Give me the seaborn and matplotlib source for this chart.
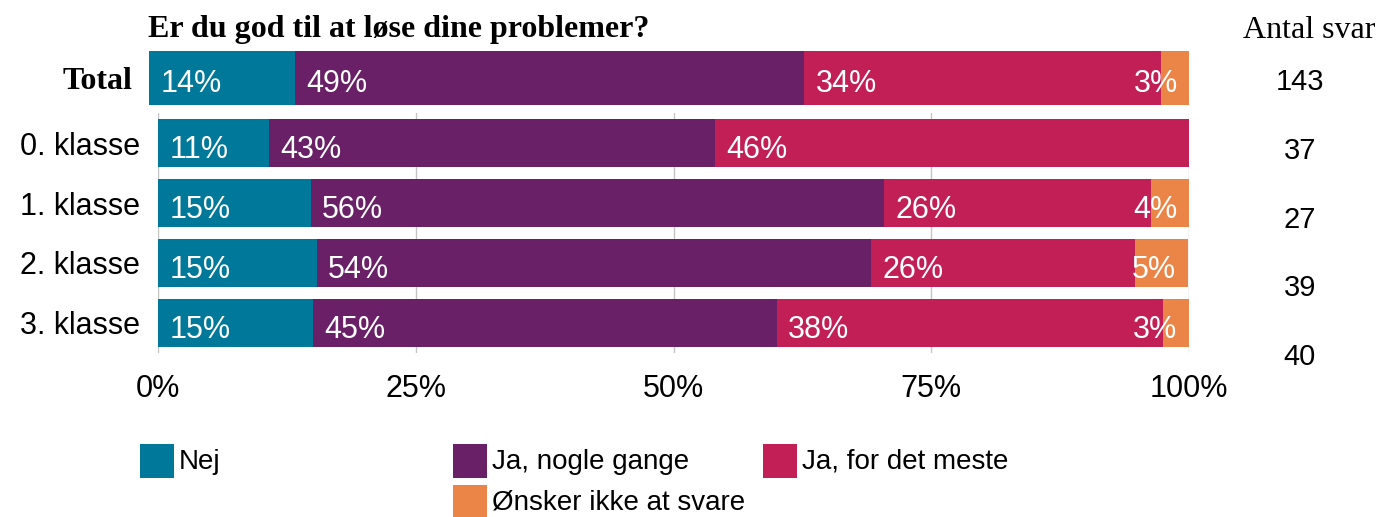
import numpy as np
import pandas as pd
import seaborn as sns
import matplotlib.pyplot as plt
from matplotlib.patches import Rectangle

# data (procent af svar)
groups = ["0. klasse", "1. klasse", "2. klasse", "3. klasse"]
answers = ["Nej", "Ja, nogle gange", "Ja, for det meste", "Ønsker ikke at svare"]
colors = ["#00789a", "#692067", "#c21f56", "#eb8547"]

nej = [10.8, 14.8, 15.4, 15.0]
ja_nogle = [43.2, 55.6, 53.8, 45.0]
ja_meste = [46.0, 25.9, 25.6, 37.5]
onsker = [0.0, 3.7, 5.1, 2.5]

total = [14.0, 49.0, 34.3, 2.8]
antal_svar = [143, 37, 27, 39, 40]

x_ticks = [0, 25, 50, 75, 100]
x_labels = ["0%", "25%", "50%", "75%", "100%"]

W, H = 1379, 517
SANS = "Liberation Sans"
SERIF = "Liberation Serif"

df = pd.DataFrame({"gruppe": groups, answers[0]: nej, answers[1]: ja_nogle,
                   answers[2]: ja_meste, answers[3]: onsker})
df_total = pd.DataFrame({"gruppe": ["Total"], **{a: [v] for a, v in zip(answers, total)}})

sns.set_style("white")
plt.rcParams["font.family"] = [SANS, "DejaVu Sans"]
plt.rcParams["text.color"] = "black"
plt.rcParams["xtick.color"] = "black"
plt.rcParams["ytick.color"] = "black"

fig = plt.figure(figsize=(W / 100, H / 100), dpi=100)


def px_axes(left, right, top, bottom):
    return fig.add_axes([left / W, 1 - bottom / H, (right - left) / W, (bottom - top) / H])


def stacked(ax, data, bar_width, dy):
    cum = data[answers].cumsum(axis=1)
    plot = data[["gruppe"]].copy()
    # tegn fra højre mod venstre så de korte bjælker ligger ovenpå
    for ans, col in reversed(list(zip(answers, colors))):
        plot["x"] = cum[ans].values
        sns.barplot(data=plot, x="x", y="gruppe", color=col, saturation=1,
                    orient="h", width=bar_width, ax=ax, errorbar=None,
                    linewidth=0, edgecolor="none")
    # procent-labels
    for i, row in data.reset_index(drop=True).iterrows():
        left = 0
        for ans in answers:
            v = row[ans]
            if v > 0:
                lab = f"{int(np.floor(v + 0.5))}%"
                if v < 8:
                    ax.text(left + v - 1.15, i + dy, lab, ha="right", va="center_baseline",
                            color="white", fontsize=22, zorder=5)
                else:
                    ax.text(left + 1.1, i + dy, lab, ha="left", va="center_baseline",
                            color="white", fontsize=22, zorder=5)
            left += v
    ax.set_xlim(0, 100)
    ax.set_xlabel("")
    ax.set_ylabel("")
    sns.despine(ax=ax, left=True, bottom=True)


# Total
ax_t = px_axes(149, 1189, 51, 105)
stacked(ax_t, df_total, 1.0, 0.04)
ax_t.set_ylim(0.5, -0.5)
ax_t.set_xticks([])
ax_t.tick_params(axis="y", length=0, pad=12)
for t in ax_t.get_yticklabels():
    t.set_fontfamily(SERIF)
    t.set_fontweight("bold")
    t.set_fontsize(23)

# klasser
ax = px_axes(158, 1189, 113, 353)
stacked(ax, df, 0.8, 0.05)
ax.set_ylim(3.5, -0.5)
ax.set_xticks(x_ticks)
ax.set_xticklabels(x_labels, fontsize=22)
ax.tick_params(axis="x", length=0, pad=15)
ax.tick_params(axis="y", length=0, pad=13, labelsize=22)
ax.grid(axis="x", color="#c4c4c4", linewidth=1)
ax.set_axisbelow(True)

# titel og antal svar
fig.text(148 / W, 1 - 30 / H, "Er du god til at løse dine problemer?", ha="left",
         va="center", fontfamily=SERIF, fontweight="bold", fontsize=23)
fig.text(1309 / W, 1 - 30 / H, "Antal svar", ha="center", va="center",
         fontfamily=SERIF, fontsize=23)
for k, n in enumerate(antal_svar):
    fig.text(1300 / W, 1 - (82 + k * 68.75) / H, str(n), ha="center", va="center",
             fontsize=21)

# legend
legend_pos = [(140, 444), (453, 444), (763, 444), (453, 485)]
for (lx, ly), ans, col in zip(legend_pos, answers, colors):
    fig.add_artist(Rectangle((lx / W, 1 - (ly + 34) / H), 34 / W, 34 / H,
                             transform=fig.transFigure, facecolor=col, edgecolor="none"))
    fig.text((lx + 39) / W, 1 - (ly + 18) / H, ans, ha="left", va="center", fontsize=20)

fig.savefig("out.png", dpi=100)
